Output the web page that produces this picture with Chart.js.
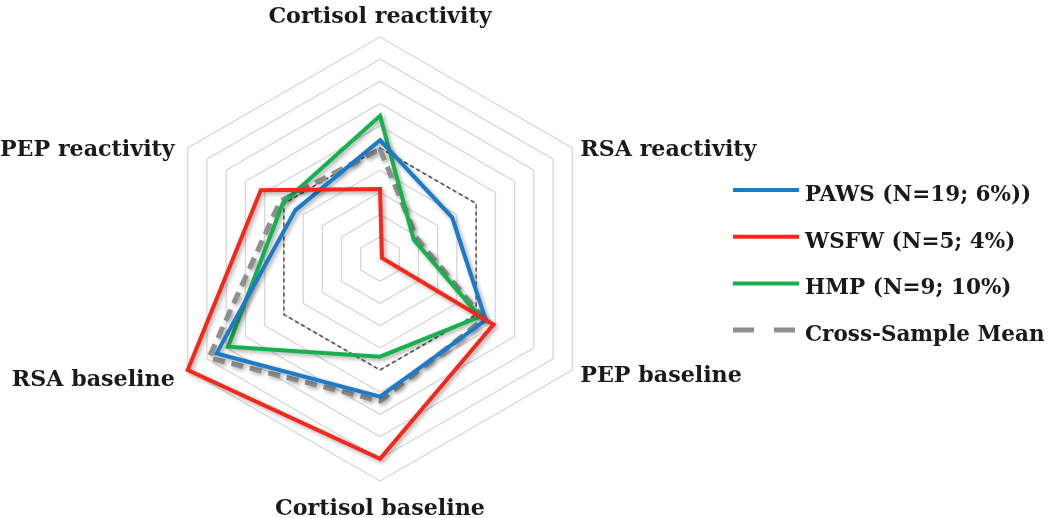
<!DOCTYPE html>
<html>
<head>
<meta charset="utf-8">
<script src="https://cdn.jsdelivr.net/npm/chart.js@4/dist/chart.umd.min.js"></script>
<style>
  html, body { margin: 0; padding: 0; background: #ffffff; }
  #wrap { position: relative; width: 1050px; height: 518px; }
</style>
</head>
<body>
<div id="wrap"><canvas id="c" width="1050" height="518"></canvas></div>
<script>
// ---- data ----
const categories = ['Cortisol reactivity', 'RSA reactivity', 'PEP baseline', 'Cortisol baseline', 'RSA baseline', 'PEP reactivity'];
const seriesNames = ['PAWS (N=19; 6%))', 'WSFW (N=5; 4%)', 'HMP (N=9; 10%)', 'Cross-Sample Mean'];
const pawsValues  = [5.35, 3.75, 5.5, 6.2, 8.5, 4.4];
const wsfwValues  = [3.15, 0.1, 5.9, 9.0, 10.0, 6.2];
const hmpValues   = [6.45, 1.75, 5.2, 4.4, 7.9, 5.05];
const meanValues  = [4.95, 1.9, 5.4, 6.4, 8.9, 5.2];
const referenceValues = [5, 5, 5, 5, 5, 5];
const scaleMin = 0, scaleMax = 10, scaleStep = 1;

const FONT = '"DejaVu Serif", "Liberation Serif", serif';
const FONT_SIZE = 22.2;
const LEGEND_FONT_SIZE = 21.5;
const colors = ['#1b7bc9', '#f5281c', '#17b04f', '#8f8f8f'];

const shadowPlugin = {
  id: 'shadow',
  beforeDatasetDraw(chart, args) {
    const ds = chart.data.datasets[args.index];
    if (ds.noShadow) return;
    const ctx = chart.ctx;
    ctx.save();
    ctx.shadowColor = 'rgba(0,0,0,0.35)';
    ctx.shadowBlur = 4;
    ctx.shadowOffsetX = 2;
    ctx.shadowOffsetY = 2;
    ds._shadowSaved = true;
  },
  afterDatasetDraw(chart, args) {
    const ds = chart.data.datasets[args.index];
    if (ds._shadowSaved) { chart.ctx.restore(); ds._shadowSaved = false; }
  }
};

// point labels drawn at the scale's own point positions
const labelOffsets = [
  {dx: 0, dy: -14, align: 'center'},
  {dx: 8, dy: 8, align: 'left'},
  {dx: 8, dy: 12, align: 'left'},
  {dx: 0, dy: 34, align: 'center'},
  {dx: -13, dy: 16, align: 'right'},
  {dx: -13, dy: 8, align: 'right'}
];
const pointLabelPlugin = {
  id: 'pointLabelsCustom',
  afterDraw(chart) {
    const scale = chart.scales.r;
    const ctx = chart.ctx;
    ctx.save();
    ctx.font = 'bold ' + FONT_SIZE + 'px ' + FONT;
    ctx.fillStyle = '#1a1a1a';
    ctx.textBaseline = 'alphabetic';
    categories.forEach((lab, i) => {
      const p = scale.getPointPosition(i, scale.drawingArea);
      const o = labelOffsets[i];
      ctx.textAlign = o.align;
      ctx.fillText(lab, p.x + o.dx, p.y + o.dy);
    });
    ctx.restore();
  }
};

const legendPlugin = {
  id: 'legendCustom',
  afterDraw(chart) {
    const ctx = chart.ctx;
    ctx.save();
    const x0 = 733, x1 = 799, tx = 805, y0 = 190, step = 46.7;
    seriesNames.forEach((name, i) => {
      const y = y0 + i * step;
      const ds = chart.data.datasets[i];
      ctx.beginPath();
      ctx.strokeStyle = ds.borderColor;
      ctx.lineWidth = ds.borderWidth;
      ctx.lineCap = 'butt';
      ctx.setLineDash(i === 3 ? [21, 20] : []);
      ctx.moveTo(x0, y);
      ctx.lineTo(x1, y);
      ctx.stroke();
      ctx.setLineDash([]);
      ctx.font = 'bold ' + LEGEND_FONT_SIZE + 'px ' + FONT;
      ctx.fillStyle = '#1a1a1a';
      ctx.textAlign = 'left';
      ctx.textBaseline = 'alphabetic';
      ctx.fillText(name, tx, y + 11);
    });
    ctx.restore();
  }
};

const ctx = document.getElementById('c').getContext('2d');
new Chart(ctx, {
  type: 'radar',
  data: {
    labels: categories,
    datasets: [
      {label: seriesNames[0], data: pawsValues, borderColor: colors[0], borderWidth: 4, order: 2},
      {label: seriesNames[1], data: wsfwValues, borderColor: colors[1], borderWidth: 4, order: 1},
      {label: seriesNames[2], data: hmpValues, borderColor: colors[2], borderWidth: 4, order: 3},
      {label: seriesNames[3], data: meanValues, borderColor: colors[3], borderWidth: 5, borderDash: [12, 7], order: 4},
      {label: 'reference', data: referenceValues, borderColor: '#555555', borderWidth: 1.5, borderDash: [4, 3], order: 5, noShadow: true}
    ].map(d => Object.assign({fill: false, pointRadius: 0, pointHoverRadius: 0, tension: 0, backgroundColor: 'transparent', borderJoinStyle: 'miter'}, d))
  },
  options: {
    responsive: false,
    animation: false,
    events: [],
    layout: {padding: {top: 37, bottom: 37, left: 0, right: 290}},
    plugins: {legend: {display: false}, tooltip: {enabled: false}},
    scales: {
      r: {
        min: scaleMin, max: scaleMax,
        ticks: {display: false, stepSize: scaleStep},
        angleLines: {display: false},
        grid: {color: '#d9d9d9', lineWidth: 1.4},
        pointLabels: {display: false}
      }
    }
  },
  plugins: [shadowPlugin, pointLabelPlugin, legendPlugin]
});
</script>
</body>
</html>
